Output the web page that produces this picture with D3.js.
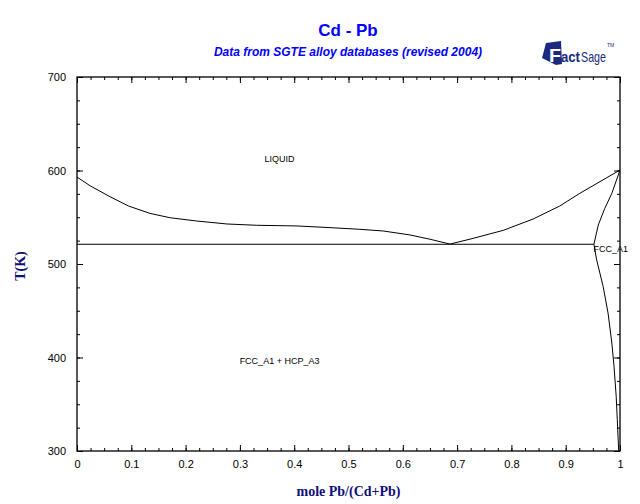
<!DOCTYPE html>
<html>
<head>
<meta charset="utf-8">
<script src="https://cdn.jsdelivr.net/npm/d3@7"></script>
<style>
  body { margin: 0; background: #fff; }
  svg { display: block; }
  .tick text { font-family: "Liberation Sans", Arial, sans-serif; font-size: 11px; fill: #000; }
</style>
</head>
<body>
<svg id="chart"></svg>
<script>
// mole fraction Pb / temperature (K)
const liqCdX = [0, 0.024, 0.061, 0.095, 0.134, 0.171, 0.220, 0.276, 0.331, 0.405, 0.466, 0.521, 0.564, 0.613, 0.650, 0.687];
const liqCdT = [593.0, 583.7, 571.9, 562.0, 554.2, 549.5, 546.0, 542.8, 541.4, 540.7, 538.9, 537.1, 535.3, 531.1, 526.5, 521.3];
const liqPbX = [0.687, 0.730, 0.785, 0.840, 0.889, 0.926, 1.0];
const liqPbT = [521.3, 527.5, 536.0, 548.1, 562.0, 575.6, 600.5];
const solidusX = [1.0, 0.985, 0.972, 0.960, 0.952];
const solidusT = [600.5, 575.6, 559.5, 541.7, 521.1];
const solvusX = [0.952, 0.957, 0.969, 0.978, 0.985, 0.989, 0.993, 0.995, 0.9976];
const solvusT = [521.1, 504.4, 475.9, 447.5, 415.5, 390.5, 358.5, 333.6, 300];
const eutecticX = [0, 0.952];
const eutecticT = [521.1, 521.1];

const xTicks = [0, 0.1, 0.2, 0.3, 0.4, 0.5, 0.6, 0.7, 0.8, 0.9, 1];
const xTickLabels = ["0", "0.1", "0.2", "0.3", "0.4", "0.5", "0.6", "0.7", "0.8", "0.9", "1"];
const yTicks = [300, 400, 500, 600, 700];

const phaseLabels = ["LIQUID", "FCC_A1 + HCP_A3", "FCC_A1"];
const phaseX = [0.373, 0.373, 0.951];
const phaseT = [609.5, 393, 512.5];
const phaseAnchor = ["middle", "middle", "start"];

const width = 640, height = 504;
const margin = { top: 77, right: 20, bottom: 53, left: 77 };
const w = width - margin.left - margin.right;
const h = height - margin.top - margin.bottom;

const svg = d3.select("#chart").attr("width", width).attr("height", height);

const x = d3.scaleLinear().domain([0, 1]).range([0, w]);
const y = d3.scaleLinear().domain([300, 700]).range([h, 0]);

const g = svg.append("g").attr("transform", `translate(${margin.left},${margin.top})`);

// minor ticks (every 0.025 / 25 K), pointing inwards on all sides
const xMinor = d3.range(0, 1.0001, 0.025);
const yMinor = d3.range(300, 700.1, 25);

function styleAxis(sel) {
    sel.select(".domain").remove();
    sel.selectAll("line").attr("stroke", "#000");
}

g.append("g").attr("transform", `translate(0,${h})`)
    .call(d3.axisBottom(x).tickValues(xMinor).tickSize(-3).tickFormat(""))
    .call(styleAxis);
g.append("g")
    .call(d3.axisTop(x).tickValues(xMinor).tickSize(-3).tickFormat(""))
    .call(styleAxis);
g.append("g")
    .call(d3.axisLeft(y).tickValues(yMinor).tickSize(-3).tickFormat(""))
    .call(styleAxis);
g.append("g").attr("transform", `translate(${w},0)`)
    .call(d3.axisRight(y).tickValues(yMinor).tickSize(-3).tickFormat(""))
    .call(styleAxis);

// major ticks
g.append("g").attr("transform", `translate(0,${h})`)
    .call(d3.axisBottom(x).tickValues(xTicks).tickSizeInner(-6).tickSizeOuter(0).tickPadding(9)
        .tickFormat((d, i) => xTickLabels[i]))
    .call(styleAxis);
g.append("g")
    .call(d3.axisTop(x).tickValues(xTicks).tickSize(-6).tickFormat(""))
    .call(styleAxis);
g.append("g")
    .call(d3.axisLeft(y).tickValues(yTicks).tickSizeInner(-6).tickSizeOuter(0).tickPadding(11)
        .tickFormat(d3.format("d")))
    .call(styleAxis);
g.append("g").attr("transform", `translate(${w},0)`)
    .call(d3.axisRight(y).tickValues(yTicks).tickSize(-6).tickFormat(""))
    .call(styleAxis);

// frame
g.append("rect")
    .attr("width", w).attr("height", h)
    .attr("fill", "none").attr("stroke", "#000").attr("stroke-width", 1.3);

// phase boundaries
const line = d3.line().x(d => x(d[0])).y(d => y(d[1]));
const curves = [
    [liqCdX, liqCdT],
    [liqPbX, liqPbT],
    [solidusX, solidusT],
    [solvusX, solvusT],
    [eutecticX, eutecticT]
];
g.selectAll("path.boundary")
    .data(curves.map(c => c[0].map((v, i) => [v, c[1][i]])))
    .join("path")
    .attr("class", "boundary")
    .attr("d", line)
    .attr("fill", "none")
    .attr("stroke", "#000")
    .attr("stroke-width", 1);

// phase labels
g.selectAll("text.phase")
    .data(phaseLabels)
    .join("text")
    .attr("class", "phase")
    .attr("x", (d, i) => x(phaseX[i]))
    .attr("y", (d, i) => y(phaseT[i]))
    .attr("text-anchor", (d, i) => phaseAnchor[i])
    .style("font-family", "'Liberation Sans', Arial, sans-serif")
    .style("font-size", "9px")
    .text(d => d);

// titles
svg.append("text")
    .attr("x", 348).attr("y", 36)
    .attr("text-anchor", "middle")
    .style("font-family", "'Liberation Sans', Arial, sans-serif")
    .style("font-weight", "bold").style("font-size", "17px")
    .attr("fill", "#0000ff")
    .text("Cd - Pb");
svg.append("text")
    .attr("x", 348).attr("y", 56)
    .attr("text-anchor", "middle")
    .style("font-family", "'Liberation Sans', Arial, sans-serif")
    .style("font-weight", "bold").style("font-style", "italic").style("font-size", "12px")
    .attr("fill", "#0000ff")
    .text("Data from SGTE alloy databases (revised 2004)");

// axis titles
svg.append("text")
    .attr("x", margin.left + w / 2).attr("y", 496)
    .attr("text-anchor", "middle")
    .style("font-family", "'Liberation Serif', 'Times New Roman', serif")
    .style("font-weight", "bold").style("font-size", "14px")
    .attr("fill", "#10107a")
    .text("mole Pb/(Cd+Pb)");
svg.append("text")
    .attr("transform", "translate(25,266) rotate(-90)")
    .attr("text-anchor", "middle")
    .style("font-family", "'Liberation Serif', 'Times New Roman', serif")
    .style("font-weight", "bold").style("font-size", "14px")
    .attr("fill", "#10107a")
    .text("T(K)");

// FactSage logo
const logo = svg.append("g").attr("transform", "translate(541,40)");
logo.append("path")
    .attr("d", "M5,3 L20,1 L21,24 L15,25 L1,18 Z")
    .attr("fill", "#1b2a80");
logo.append("text")
    .attr("x", 8).attr("y", 22)
    .attr("textLength", 12).attr("lengthAdjust", "spacingAndGlyphs")
    .style("font-family", "'Liberation Sans', Arial, sans-serif")
    .style("font-weight", "bold").style("font-size", "19px")
    .attr("fill", "#fff")
    .text("F");
logo.append("text")
    .attr("x", 20).attr("y", 22)
    .attr("textLength", 19).attr("lengthAdjust", "spacingAndGlyphs")
    .style("font-family", "'Liberation Sans', Arial, sans-serif")
    .style("font-weight", "bold").style("font-size", "15px")
    .attr("fill", "#1b2a80")
    .text("act");
logo.append("text")
    .attr("x", 40).attr("y", 22)
    .attr("textLength", 25).attr("lengthAdjust", "spacingAndGlyphs")
    .style("font-family", "'Liberation Sans Narrow', 'Liberation Sans', Arial, sans-serif")
    .style("font-size", "15px")
    .attr("fill", "#1b2a80")
    .text("Sage");
logo.append("text")
    .attr("x", 66).attr("y", 7)
    .style("font-family", "'Liberation Sans', Arial, sans-serif")
    .style("font-size", "5px")
    .attr("fill", "#1b2a80")
    .text("TM");
</script>
</body>
</html>
